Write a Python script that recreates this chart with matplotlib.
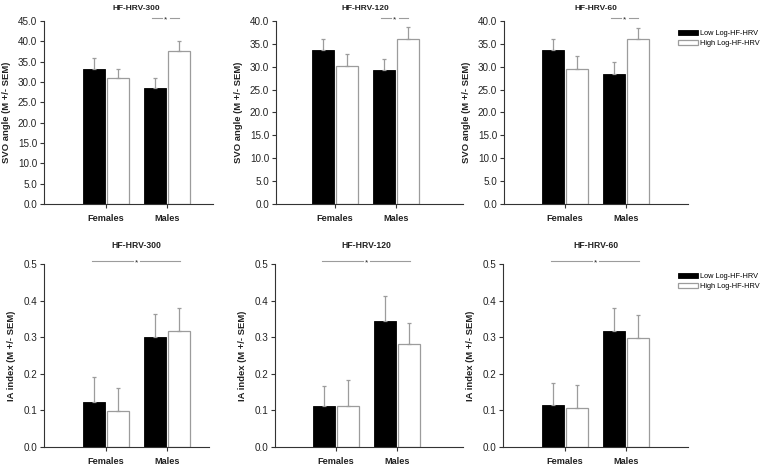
import matplotlib
matplotlib.use('Agg')
import matplotlib.pyplot as plt
import matplotlib.transforms as mtransforms
import numpy as np

plt.rcParams['font.family'] = ['Liberation Sans', 'DejaVu Sans']

# ---------------- data ----------------
groups = ['Females', 'Males']
series = ['Low Log-HF-HRV', 'High Log-HF-HRV']
titles = ['HF-HRV-300', 'HF-HRV-120', 'HF-HRV-60']

# SVO angle (top row)
svo_300_low = [33.2, 28.6]
svo_300_low_sem = [2.6, 2.5]
svo_300_high = [30.9, 37.5]
svo_300_high_sem = [2.4, 2.5]

svo_120_low = [33.6, 29.2]
svo_120_low_sem = [2.5, 2.4]
svo_120_high = [30.1, 36.1]
svo_120_high_sem = [2.6, 2.5]

svo_60_low = [33.7, 28.4]
svo_60_low_sem = [2.4, 2.6]
svo_60_high = [29.6, 36.1]
svo_60_high_sem = [2.7, 2.4]

# IA index (bottom row)
ia_300_low = [0.124, 0.300]
ia_300_low_sem = [0.066, 0.063]
ia_300_high = [0.098, 0.316]
ia_300_high_sem = [0.063, 0.063]

ia_120_low = [0.111, 0.345]
ia_120_low_sem = [0.056, 0.067]
ia_120_high = [0.113, 0.281]
ia_120_high_sem = [0.069, 0.058]

ia_60_low = [0.1145, 0.317]
ia_60_low_sem = [0.061, 0.062]
ia_60_high = [0.1055, 0.299]
ia_60_high_sem = [0.0645, 0.061]

svo_ticks_300 = [0, 5, 10, 15, 20, 25, 30, 35, 40, 45]
svo_ticks = [0, 5, 10, 15, 20, 25, 30, 35, 40]
ia_ticks = [0.0, 0.1, 0.2, 0.3, 0.4, 0.5]

# ---------------- layout ----------------
W, H = 760, 465
fig = plt.figure(figsize=(W / 100, H / 100), dpi=100)

PX_PER_UNIT = 61.0
BAR_W = 0.36
OFF = 0.197
GRAY = '#9c9c9c'
SPINE = '#333333'


def make_axes(l, r, t, b, fem_center):
    ax = fig.add_axes([l / W, 1 - b / H, (r - l) / W, (b - t) / H])
    ax.set_xlim((l - fem_center) / PX_PER_UNIT, (r - fem_center) / PX_PER_UNIT)
    return ax


def draw_panel(ax, low, low_sem, high, high_sem, ylim, yticks, yfmt, ylabel,
               title, title_size, title_pad):
    x = np.arange(len(groups))
    b1 = ax.bar(x - OFF, low, width=BAR_W, color='black', edgecolor='black',
                linewidth=0.6, zorder=2)
    b2 = ax.bar(x + OFF, high, width=BAR_W, color='white', edgecolor=GRAY,
                linewidth=0.9, zorder=2)
    z = np.zeros(len(groups))
    ax.errorbar(x - OFF, low, yerr=[z, low_sem], fmt='none', ecolor=GRAY,
                elinewidth=0.9, capsize=1.6, capthick=0.9, zorder=3)
    ax.errorbar(x + OFF, high, yerr=[z, high_sem], fmt='none', ecolor=GRAY,
                elinewidth=0.9, capsize=1.6, capthick=0.9, zorder=3)
    ax.set_ylim(*ylim)
    ax.set_yticks(yticks)
    ax.set_yticklabels([yfmt.format(v) for v in yticks])
    ax.set_xticks(x)
    ax.set_xticklabels(groups, fontweight='bold', fontsize=6.6)
    for s in ['top', 'right']:
        ax.spines[s].set_visible(False)
    for s in ['left', 'bottom']:
        ax.spines[s].set_color(SPINE)
        ax.spines[s].set_linewidth(0.8)
    ax.tick_params(axis='y', length=3, width=0.8, color=SPINE, labelsize=7.1,
                   pad=2, labelcolor='#222222')
    ax.tick_params(axis='x', length=3, width=0.8, color=SPINE, pad=4,
                   labelcolor='#222222')
    ax.set_ylabel(ylabel, fontweight='bold', fontsize=6.8, labelpad=5,
                  color='#222222')
    x0, x1 = ax.get_xlim()
    ax.set_title(title, fontweight='bold', fontsize=title_size,
                 x=(0.5 - x0) / (x1 - x0), pad=title_pad, color='#222222')
    return b1, b2


def sig(ax, xa, xb, xs, gap=0.065):
    trans = mtransforms.blended_transform_factory(ax.transData, ax.transAxes)
    y = 1 + 3.0 / 183.0
    ax.plot([xa, xs - gap], [y, y], color=GRAY, lw=0.8, transform=trans,
            clip_on=False)
    ax.plot([xs + gap, xb], [y, y], color=GRAY, lw=0.8, transform=trans,
            clip_on=False)
    star_trans = mtransforms.offset_copy(trans, fig=fig, y=-2, units='dots')
    ax.text(xs, y, '*', ha='center', va='center', fontsize=6,
            transform=star_trans, color='#222222')


top = [(44, 213, 106), (276, 463, 335), (504, 688, 565)]
bot = [(44, 209, 106), (275, 463, 336), (503, 688, 565)]

svo_data = [
    (svo_300_low, svo_300_low_sem, svo_300_high, svo_300_high_sem, (0, 45), svo_ticks_300),
    (svo_120_low, svo_120_low_sem, svo_120_high, svo_120_high_sem, (0, 40), svo_ticks),
    (svo_60_low, svo_60_low_sem, svo_60_high, svo_60_high_sem, (0, 40), svo_ticks),
]
ia_data = [
    (ia_300_low, ia_300_low_sem, ia_300_high, ia_300_high_sem),
    (ia_120_low, ia_120_low_sem, ia_120_high, ia_120_high_sem),
    (ia_60_low, ia_60_low_sem, ia_60_high, ia_60_high_sem),
]

for i in range(3):
    l, r, c = top[i]
    ax = make_axes(l, r, 21, 204, c)
    lo, los, hi, his, yl, yt = svo_data[i]
    b1, b2 = draw_panel(ax, lo, los, hi, his, yl, yt, '{:.1f}',
                        'SVO angle (M +/- SEM)', titles[i], 6.0, 7.7)
    sig(ax, 0.76, 1.2, 0.98)
    if i == 2:
        ax.legend([b1, b2], series, loc='upper left',
                  bbox_to_anchor=(678 / W, 1 - 30 / H),
                  bbox_transform=fig.transFigure, frameon=False,
                  fontsize=5.3, handlelength=2.7, handleheight=0.7,
                  handletextpad=0.3, labelspacing=0.35, borderpad=0,
                  borderaxespad=0)

for i in range(3):
    l, r, c = bot[i]
    ax = make_axes(l, r, 264, 447, c)
    lo, los, hi, his = ia_data[i]
    b1, b2 = draw_panel(ax, lo, los, hi, his, (0, 0.5), ia_ticks, '{:.1f}',
                        'IA index (M +/- SEM)', titles[i], 6.2, 11.3)
    sig(ax, -0.23, 1.22, 0.5)
    if i == 2:
        ax.legend([b1, b2], series, loc='upper left',
                  bbox_to_anchor=(678 / W, 1 - 273 / H),
                  bbox_transform=fig.transFigure, frameon=False,
                  fontsize=5.3, handlelength=2.7, handleheight=0.7,
                  handletextpad=0.3, labelspacing=0.35, borderpad=0,
                  borderaxespad=0)

fig.savefig('out.png', dpi=100)
